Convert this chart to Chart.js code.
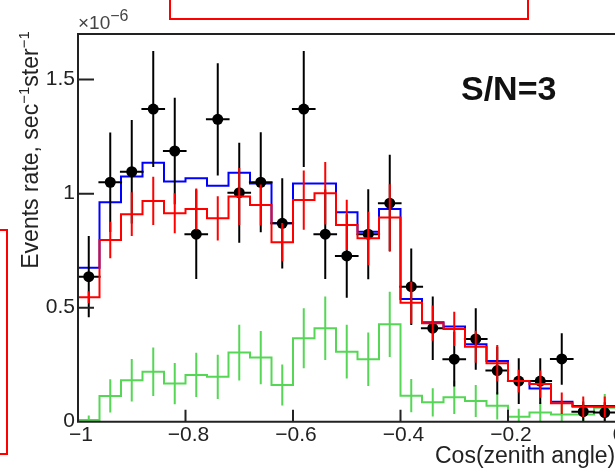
<!DOCTYPE html>
<html>
<head>
<meta charset="utf-8">
<script src="https://cdn.jsdelivr.net/npm/chart.js@4/dist/chart.umd.min.js"></script>
<style>
  html, body { margin:0; padding:0; background:#fff; width:615px; height:474px; overflow:hidden; }
  #wrap { position:relative; width:615px; height:474px; overflow:hidden; }
  canvas { position:absolute; left:0; top:0; }
  .t { position:absolute; font-family:"Liberation Sans", Arial, sans-serif; color:#222; white-space:nowrap; line-height:1; }
  .sup { position:relative; }
  .box { position:absolute; border:2px solid #ff0000; box-sizing:border-box; }
</style>
</head>
<body>
<div id="wrap">
  <canvas id="c" width="660" height="474"></canvas>
  <div class="box" style="left:169px; top:-10px; width:360px; height:30px;"></div>
  <div class="box" style="left:-10px; top:229px; width:18px; height:226px;"></div>
  <div class="t" style="left:78px; top:13px; font-size:19px; color:#444;">×10<span class="sup" style="font-size:16px; top:-8px;">−6</span></div>
  <div class="t" style="left:30px; top:150px; font-size:23px; transform:translate(-50%,-50%) rotate(-90deg);">Events rate, sec<span class="sup" style="font-size:15px; top:-9px;">−1</span>ster<span class="sup" style="font-size:15px; top:-9px;">−1</span></div>
  <div class="t" style="left:435px; top:444px; font-size:23px;">Cos(zenith angle)</div>
  <div class="t" style="left:461px; top:71px; font-size:34px; font-weight:bold; color:#111;">S/N=3</div>
</div>
<script>
// ---- data (values in units of 1e-6 sec^-1 ster^-1) ----
const binCenters = [-0.98,-0.94,-0.90,-0.86,-0.82,-0.78,-0.74,-0.70,-0.66,-0.62,-0.58,-0.54,-0.50,-0.46,-0.42,-0.38,-0.34,-0.30,-0.26,-0.22,-0.18,-0.14,-0.10,-0.06,-0.02];
const binHalfWidth = 0.02;

const dataRate = [0.636,1.050,1.096,1.371,1.187,0.822,1.326,1.004,1.050,0.870,1.371,0.822,0.727,0.822,0.958,0.592,0.410,0.274,0.363,0.224,0.178,0.178,0.275,0.044,0.040];
const dataErr  = [0.178,0.218,0.227,0.254,0.234,0.196,0.246,0.219,0.219,0.198,0.254,0.196,0.183,0.197,0.212,0.168,0.139,0.120,0.135,0.105,0.100,0.100,0.113,0.045,0.045];

const blueHist = [0.675,0.962,1.075,1.136,1.053,1.068,1.035,1.092,1.045,0.870,1.045,1.045,0.918,0.833,0.933,0.538,0.436,0.417,0.340,0.266,0.178,0.146,0.088,0.069,0.069];

const redHist = [0.546,0.797,0.910,0.968,0.914,0.933,0.892,0.987,0.950,0.787,0.972,1.002,0.863,0.804,0.895,0.522,0.432,0.407,0.329,0.256,0.178,0.165,0.081,0.066,0.066];
const redErr  = [0.026,0.080,0.096,0.106,0.088,0.090,0.097,0.125,0.090,0.084,0.130,0.137,0.110,0.117,0.146,0.092,0.077,0.075,0.070,0.080,0.050,0.060,0.047,0.045,0.045];

const greenHist = [0.007,0.113,0.182,0.219,0.167,0.205,0.197,0.303,0.281,0.161,0.366,0.410,0.307,0.274,0.427,0.114,0.085,0.107,0.091,0.070,0.022,0.040,0.032,0.032,0.061];
const greenErr  = [0.020,0.073,0.093,0.106,0.090,0.097,0.097,0.122,0.117,0.090,0.132,0.139,0.118,0.117,0.143,0.073,0.062,0.073,0.070,0.060,0.035,0.045,0.045,0.045,0.060];

const xTickValues = [-1,-0.8,-0.6,-0.4,-0.2,0];
const xTickLabels = ['−1','−0.8','−0.6','−0.4','−0.2','0'];
const yTickValues = [0,0.5,1,1.5];
const yTickLabels = ['0','0.5','1','1.5'];

// ---- helpers ----
function stepPoints(vals) {
  const pts = binCenters.map((c, i) => ({ x: c - binHalfWidth, y: vals[i] }));
  const last = binCenters.length - 1;
  pts.push({ x: binCenters[last] + binHalfWidth, y: vals[last] });
  return pts;
}
function centerPoints(vals) { return binCenters.map((c, i) => ({ x: c, y: vals[i] })); }

const GREEN = 'rgb(85,215,85)';

const errPlugin = {
  id: 'errbars',
  drawErr(chart, ds) {
    const ctx = chart.ctx, xs = chart.scales.x, ys = chart.scales.y, a = chart.chartArea;
    ctx.save();
    ctx.beginPath(); ctx.rect(a.left, a.top, a.right - a.left, a.bottom - a.top); ctx.clip();
    ctx.strokeStyle = ds.errColor; ctx.lineWidth = 2; ctx.lineCap = 'butt';
    ds.errCenters.forEach((c, i) => {
      const v = ds.errVals[i], e = ds.errY[i];
      const px = xs.getPixelForValue(c);
      ctx.beginPath();
      ctx.moveTo(px, ys.getPixelForValue(v + e));
      ctx.lineTo(px, ys.getPixelForValue(v - e));
      if (ds.errX) {
        const py = ys.getPixelForValue(v);
        ctx.moveTo(xs.getPixelForValue(c - ds.errX), py);
        ctx.lineTo(xs.getPixelForValue(c + ds.errX), py);
      }
      ctx.stroke();
    });
    ctx.restore();
  },
  beforeDatasetDraw(chart, args) {
    const ds = chart.data.datasets[args.index];
    if (ds.errY && ds.errWhen === 'before') this.drawErr(chart, ds);
  },
  afterDatasetDraw(chart, args) {
    const ds = chart.data.datasets[args.index];
    if (ds.errY && ds.errWhen === 'after') this.drawErr(chart, ds);
  }
};

const framePlugin = {
  id: 'frame',
  afterDatasetsDraw(chart) {
    const ctx = chart.ctx, a = chart.chartArea, xs = chart.scales.x, ys = chart.scales.y;
    ctx.save();
    ctx.strokeStyle = '#222'; ctx.lineWidth = 2;
    ctx.beginPath();
    ctx.moveTo(a.right + 1, a.top); ctx.lineTo(a.left, a.top); ctx.lineTo(a.left, a.bottom); ctx.lineTo(a.right + 1, a.bottom);
    ctx.stroke();
    ctx.beginPath();
    yTickValues.forEach(v => { const py = ys.getPixelForValue(v); if (v > 0) { ctx.moveTo(a.left, py); ctx.lineTo(a.left + 16, py); } });
    xTickValues.forEach(v => { const px = xs.getPixelForValue(v); if (v > -1 && v < 0) { ctx.moveTo(px, a.bottom); ctx.lineTo(px, a.bottom - 12); } });
    ctx.stroke();
    ctx.restore();
  }
};

const tickFont = { family: '"Liberation Sans", Arial, sans-serif', size: 21 };

new Chart(document.getElementById('c').getContext('2d'), {
  type: 'scatter',
  data: {
    datasets: [
      { type: 'line', label: 'signal', data: stepPoints(greenHist), stepped: 'before',
        borderColor: GREEN, borderWidth: 2, pointRadius: 0, fill: false, order: 3,
        errY: greenErr, errVals: greenHist, errCenters: binCenters, errColor: GREEN, errWhen: 'after' },
      { type: 'line', label: 'total', data: stepPoints(blueHist), stepped: 'before',
        borderColor: '#0000ff', borderWidth: 2, pointRadius: 0, fill: false, order: 2 },
      { type: 'scatter', label: 'data', data: centerPoints(dataRate),
        pointRadius: 5.5, pointBackgroundColor: '#000', pointBorderWidth: 0, order: 1,
        errY: dataErr, errVals: dataRate, errCenters: binCenters, errX: binHalfWidth + 0.002, errColor: '#000', errWhen: 'before' },
      { type: 'line', label: 'background', data: stepPoints(redHist), stepped: 'before',
        borderColor: '#ff0000', borderWidth: 2, pointRadius: 0, fill: false, order: 0,
        errY: redErr, errVals: redHist, errCenters: binCenters, errColor: '#ff0000', errWhen: 'after' }
    ]
  },
  options: {
    responsive: false, animation: false, devicePixelRatio: 1,
    layout: { padding: { top: 34, right: 44.5, left: 0, bottom: 0 } },
    plugins: { legend: { display: false }, tooltip: { enabled: false } },
    scales: {
      x: {
        type: 'linear', min: -1, max: 0,
        grid: { display: false, drawTicks: false }, border: { display: false },
        afterBuildTicks: s => { s.ticks = xTickValues.map(v => ({ value: v })); },
        afterFit: s => { s.height = 52.3; },
        ticks: { callback: (v, i) => xTickLabels[i], font: tickFont, color: '#222', padding: 1, labelOffset: 3, maxRotation: 0, autoSkip: false }
      },
      y: {
        type: 'linear', min: 0, max: 1.7,
        grid: { display: false, drawTicks: false }, border: { display: false },
        afterBuildTicks: s => { s.ticks = yTickValues.map(v => ({ value: v })); },
        afterFit: s => { s.width = 78; },
        ticks: { callback: (v, i) => yTickLabels[i], font: tickFont, color: '#222', padding: 3 }
      }
    }
  },
  plugins: [errPlugin, framePlugin]
});
</script>
</body>
</html>
